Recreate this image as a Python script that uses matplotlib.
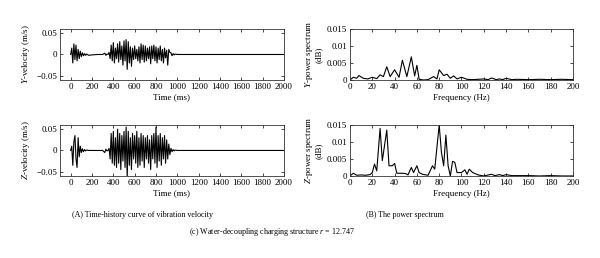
import matplotlib
matplotlib.use("Agg")
import matplotlib.pyplot as plt

plt.rcParams['font.family'] = 'Liberation Serif'
plt.rcParams['mathtext.fontset'] = 'custom'
plt.rcParams['mathtext.rm'] = 'Liberation Serif'
plt.rcParams['mathtext.it'] = 'Liberation Serif:italic'

# time history (ms) and velocities (m/s)
time_ms = [0, 10, 20, 30, 40, 50, 60, 70, 80, 90, 100, 110, 120, 130, 140, 150, 170, 200, 250, 300,
           320, 330, 340, 350, 360, 370, 380, 390, 400, 410, 420, 430, 440, 450, 460, 470, 480, 490,
           500, 510, 520, 530, 540, 550, 560, 570, 580, 590, 600, 610, 620, 630, 640, 650, 660, 670,
           680, 690, 700, 710, 720, 730, 740, 750, 760, 770, 780, 790, 800, 810, 820, 830, 840, 850,
           860, 870, 880, 890, 900, 910, 920, 930, 940, 950, 960, 970, 980, 1000, 1100, 1200, 1300,
           1400, 1500, 1600, 1700, 1800, 1900, 2000]
y_vel = [0.0, 0.015, -0.02, 0.025, -0.012, 0.022, -0.015, 0.012, -0.01, 0.008, -0.005, 0.004, -0.003,
         0.002, -0.002, 0.001, -0.002, -0.001, 0.0, 0.0, 0.003, -0.002, 0.001, 0.0, 0.005, -0.01, 0.022,
         -0.015, 0.028, -0.02, 0.015, -0.01, 0.025, -0.018, 0.03, -0.012, 0.02, -0.025, 0.032, -0.015,
         0.035, -0.035, 0.03, -0.02, 0.018, -0.028, 0.015, -0.012, 0.02, -0.01, 0.012, -0.015, 0.018,
         -0.02, 0.025, -0.012, 0.022, -0.018, 0.02, -0.015, 0.015, -0.01, 0.018, -0.022, 0.02, -0.01,
         0.022, -0.015, 0.018, -0.02, 0.015, -0.012, 0.02, -0.015, 0.012, -0.02, 0.015, -0.008, 0.01,
         -0.025, 0.012, 0.005, 0.004, -0.003, 0.002, -0.001, 0.001, 0.0, 0.0, 0.0, 0.0, 0.0, 0.0, 0.0,
         0.0, 0.0, 0.0, 0.0]
z_vel = [0.0, 0.01, -0.035, 0.02, 0.035, -0.02, -0.04, 0.03, -0.015, 0.01, -0.005, 0.004, -0.003,
         0.002, -0.001, 0.001, 0.0, 0.0, 0.0, 0.0, -0.005, 0.003, -0.001, 0.0, 0.005, -0.02, 0.04,
         -0.03, 0.045, -0.035, 0.03, -0.04, 0.05, -0.03, 0.04, -0.045, 0.035, -0.025, 0.045, -0.04,
         0.055, -0.065, 0.045, -0.035, 0.03, -0.045, 0.04, -0.02, 0.035, -0.03, 0.045, -0.04, 0.03,
         -0.035, 0.04, -0.025, 0.035, -0.04, 0.03, -0.02, 0.035, -0.03, 0.025, -0.045, 0.035, -0.02,
         0.04, -0.03, 0.055, -0.04, 0.035, -0.025, 0.04, -0.035, 0.03, -0.02, 0.035, -0.03, 0.025,
         -0.02, 0.015, -0.01, 0.005, -0.003, 0.002, -0.001, 0.001, 0.0, 0.0, 0.0, 0.0, 0.0, 0.0, 0.0,
         0.0, 0.0, 0.0, 0.0]

# power spectra (Hz, dB)
y_freq = [0, 3, 6, 8, 12, 16, 20, 24, 27, 30, 33, 36, 40, 44, 47, 51, 55, 58, 60, 62, 66, 70, 75,
          78, 80, 84, 87, 90, 93, 96, 100, 105, 110, 115, 120, 124, 127, 131, 134, 137, 140, 145,
          150, 160, 170, 180, 190, 200]
y_pow = [0.0, 0.0008, 0.0005, 0.0013, 0.0005, 0.0003, 0.0008, 0.0004, 0.0015, 0.001, 0.0039,
         0.001, 0.003, 0.0008, 0.0058, 0.001, 0.0068, 0.0012, 0.0043, 0.0002, 0.0, 0.0001, 0.001,
         0.0003, 0.003, 0.0013, 0.0017, 0.0005, 0.0012, 0.0003, 0.0008, 0.0002, 0.0001, 0.0002,
         0.0003, 0.0001, 0.0006, 0.0001, 0.0003, 0.0001, 0.0005, 0.0001, 0.0002, 0.0001, 0.0002,
         0.0001, 0.0002, 0.0001]
z_freq = [0, 3, 6, 10, 14, 18, 20, 22, 24, 27, 29, 33, 35, 38, 40, 42, 46, 50, 52, 55, 57, 60, 62,
          65, 70, 74, 76, 80, 82, 84, 86, 88, 90, 92, 94, 96, 100, 103, 105, 107, 110, 115, 120,
          127, 130, 134, 137, 140, 145, 150, 160, 170, 180, 190, 200]
z_pow = [0.0, 0.0008, 0.0002, 0.0003, 0.0002, 0.0004, 0.001, 0.0035, 0.0015, 0.014, 0.0045, 0.0135,
         0.003, 0.003, 0.0037, 0.0008, 0.0008, 0.0007, 0.0003, 0.0025, 0.001, 0.003, 0.001, 0.0005,
         0.0002, 0.003, 0.002, 0.015, 0.007, 0.003, 0.012, 0.003, 0.0, 0.0043, 0.004, 0.001, 0.001,
         0.0018, 0.0005, 0.002, 0.001, 0.0003, 0.0, 0.0005, 0.0001, 0.0004, 0.0001, 0.0004, 0.0001,
         0.0001, 0.0001, 0.0, 0.0001, 0.0, 0.0]

fs = 6.5
fig = plt.figure(figsize=(6, 2.58), dpi=100)
ax_tl = fig.add_axes([0.1, 0.69, 0.3733, 0.1977])
ax_tr = fig.add_axes([0.5833, 0.69, 0.3717, 0.1977])
ax_bl = fig.add_axes([0.1, 0.318, 0.3733, 0.1977])
ax_br = fig.add_axes([0.5833, 0.318, 0.3717, 0.1977])

for ax, vals, lab in [(ax_tl, y_vel, '$\\it{Y}$-velocity (m/s)'), (ax_bl, z_vel, '$\\it{Z}$-velocity (m/s)')]:
    ax.plot(time_ms, vals, color='black', lw=0.8)
    ax.set_xlim(-100, 2000)
    ax.set_ylim(-0.06, 0.06)
    ax.set_xticks(range(0, 2001, 200))
    ax.set_yticks([-0.05, 0, 0.05])
    ax.set_yticklabels(['\u22120.05', '0', '0.05'])
    ax.set_xlabel('Time (ms)', fontsize=fs, labelpad=2)
    ax.set_ylabel(lab, fontsize=fs, labelpad=3)

for ax, f, p, lab in [(ax_tr, y_freq, y_pow, '$\\it{Y}$-power spectrum\n(dB)'),
                      (ax_br, z_freq, z_pow, '$\\it{Z}$-power spectrum\n(dB)')]:
    ax.plot(f, p, color='black', lw=0.8)
    ax.set_xlim(0, 200)
    ax.set_ylim(0, 0.015)
    ax.set_xticks(range(0, 201, 20))
    ax.set_yticks([0, 0.005, 0.01, 0.015])
    ax.set_yticklabels(['0', '0.005', '0.01', '0.015'])
    ax.set_xlabel('Frequency (Hz)', fontsize=fs, labelpad=2)
    ax.set_ylabel(lab, fontsize=fs, labelpad=3, linespacing=1.0)

for ax in [ax_tl, ax_tr, ax_bl, ax_br]:
    ax.tick_params(direction='in', length=2, width=0.5, labelsize=fs, pad=2,
                   top=True, right=True)
    for s in ax.spines.values():
        s.set_linewidth(0.6)
        s.set_color('#333333')

fig.text(0.237, 0.167, '(A) Time-history curve of vibration velocity', fontsize=5.8, ha='center', va='center')
fig.text(0.675, 0.167, '(B) The power spectrum', fontsize=5.8, ha='center', va='center')
fig.text(0.453, 0.101, '(c) Water-decoupling charging structure $\\it{r}$ = 12.747', fontsize=5.8, ha='center', va='center')

fig.savefig('out.png', dpi=100)
